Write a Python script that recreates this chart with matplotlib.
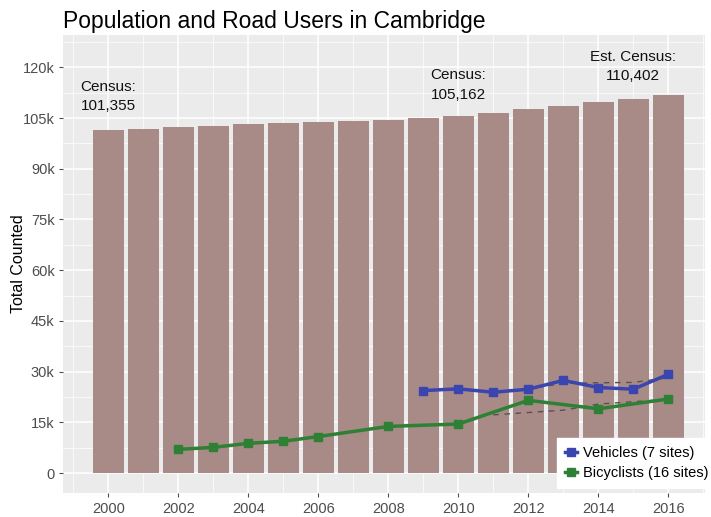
import numpy as np
import matplotlib.pyplot as plt
from matplotlib.ticker import FuncFormatter, MultipleLocator

plt.rcParams['font.family'] = ['Liberation Sans', 'DejaVu Sans']

# population per year (bars)
years = list(range(2000, 2017))
population = [101400, 101800, 102400, 102600, 103100, 103400, 103800, 104200, 104400,
              105100, 105600, 106600, 107600, 108500, 109700, 110700, 111700]

# vehicle counts (7 sites)
veh_years = [2009, 2010, 2011, 2012, 2013, 2014, 2015, 2016]
vehicles = [24400, 24900, 23900, 24800, 27400, 25300, 24800, 29200]
veh_dash_years = [2011, 2012, 2013, 2014, 2015, 2016]
veh_dash = [24000, 24900, 26500, 26700, 26800, 28200]

# bicycle counts (16 sites)
bike_years = [2002, 2003, 2004, 2005, 2006, 2008, 2010, 2012, 2014, 2016]
bicycles = [7000, 7600, 8800, 9400, 10800, 13800, 14500, 21500, 19000, 21900]
bike_dash_years = [2011, 2012, 2013, 2014, 2015, 2016]
bike_dash = [17200, 17900, 18600, 20400, 21100, 21800]

# census labels
census_x = [2000, 2010, 2015]
census_y = [111400, 114700, 120300]
census_txt = ['Census:\n101,355', 'Census:\n105,162', 'Est. Census:\n110,402']

fig = plt.figure(figsize=(7.11, 5.17), dpi=100)
ax = fig.add_axes([0.0886, 0.0464, 0.9030, 0.8856])
ax.set_facecolor('#ebebeb')

ax.bar(years, population, width=0.9, color='#a88a86', zorder=2)

ax.plot(veh_dash_years, veh_dash, ls=(0, (4, 4)), color='#5a5050', lw=1, zorder=3)
ax.plot(bike_dash_years, bike_dash, ls=(0, (4, 4)), color='#5a5050', lw=1, zorder=3)
ax.plot(veh_years, vehicles, color='#3a45b0', lw=2.5, marker='s', ms=6,
        zorder=4, label='Vehicles (7 sites)')
ax.plot(bike_years, bicycles, color='#2e8035', lw=2.5, marker='s', ms=6,
        zorder=4, label='Bicyclists (16 sites)')

for x, y, t in zip(census_x, census_y, census_txt):
    ax.text(x, y, t, ha='center', va='center', fontsize=11, linespacing=1.5,
            color='#111111', zorder=5)

ax.set_xlim(1998.7, 2017.05)
ax.set_ylim(-5900, 129500)
ax.xaxis.set_major_locator(MultipleLocator(2))
ax.xaxis.set_minor_locator(MultipleLocator(1))
ax.yaxis.set_major_locator(MultipleLocator(15000))
ax.yaxis.set_minor_locator(MultipleLocator(7500))
ax.yaxis.set_major_formatter(FuncFormatter(lambda v, p: '0' if v == 0 else f'{int(v/1000)}k'))
ax.grid(which='major', color='white', lw=1.1, zorder=0)
ax.grid(which='minor', color='white', lw=0.5, zorder=0)
ax.set_axisbelow(True)
for s in ax.spines.values():
    s.set_visible(False)
ax.tick_params(which='major', length=3, color='#4d4d4d', labelcolor='#4d4d4d',
               labelsize=10.5)
ax.tick_params(axis='y', pad=3)
ax.tick_params(which='minor', length=0)

ax.set_ylabel('Total Counted', fontsize=11.5)
ax.yaxis.set_label_coords(-0.058, 0.5)
fig.text(0.0886, 1 - 28 / 517, 'Population and Road Users in Cambridge', fontsize=16.5,
         ha='left', va='baseline')

leg = ax.legend(loc='upper left', bbox_to_anchor=(557 / 711, 1 - 438 / 517),
                bbox_transform=fig.transFigure, frameon=True, fontsize=10.5,
                handlelength=0.8, handletextpad=0.4, borderpad=0.55,
                labelspacing=0.4, fancybox=False, borderaxespad=0)
leg.get_frame().set_edgecolor('white')
leg.get_frame().set_facecolor('white')
leg.get_frame().set_alpha(1)

fig.savefig('out.png', dpi=100)
